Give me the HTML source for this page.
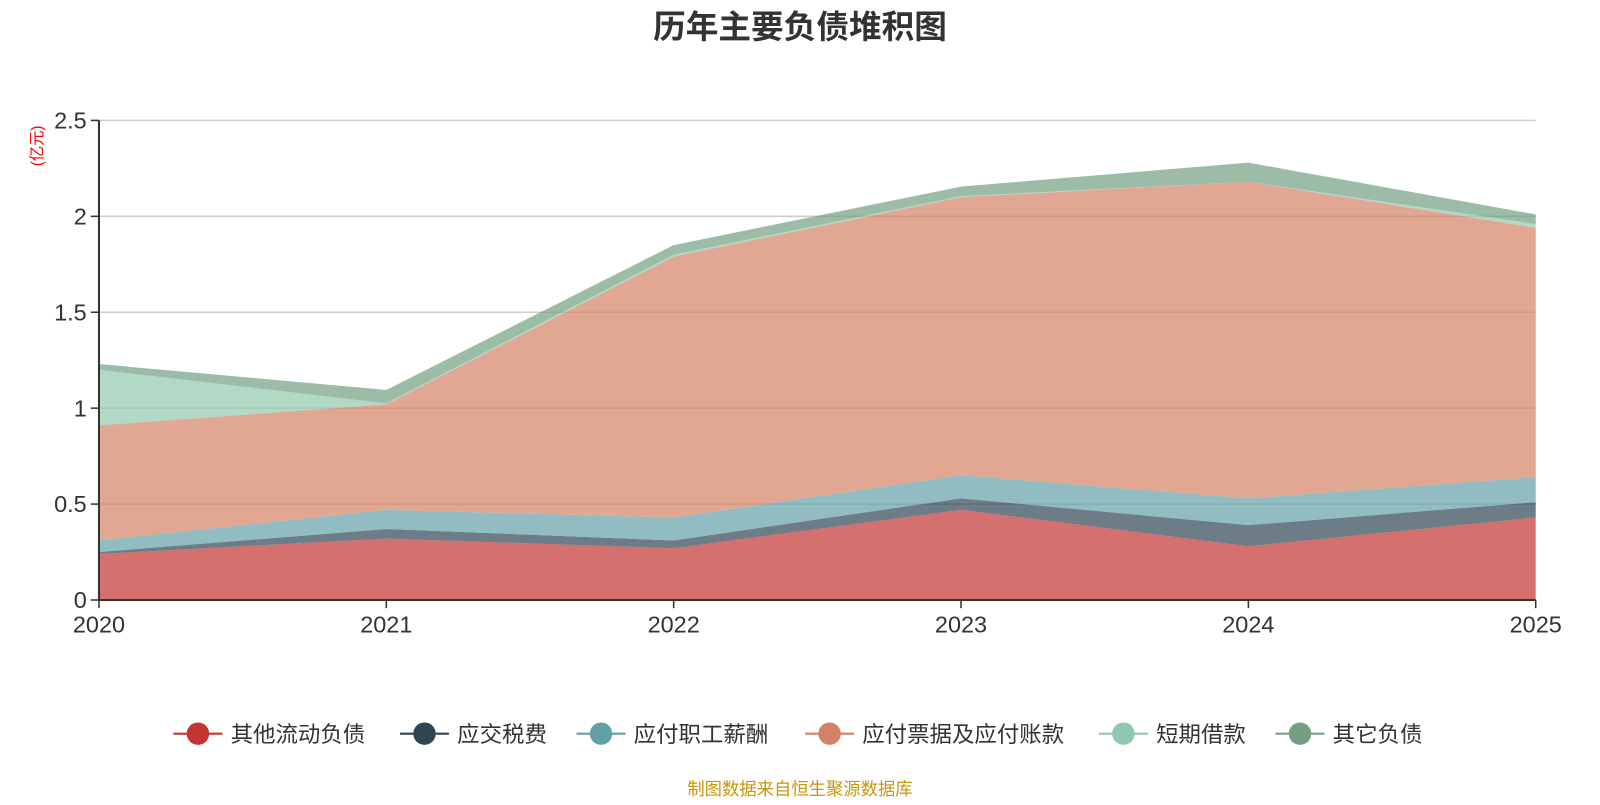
<!DOCTYPE html>
<html><head><meta charset="utf-8"><style>
body{margin:0;background:#fff;width:1600px;height:800px;overflow:hidden;font-family:"Liberation Sans","Noto Sans CJK SC",sans-serif;}
</style></head><body>
<svg id="c" width="1600" height="800" viewBox="0 0 1568 784" xmlns="http://www.w3.org/2000/svg">
<text x="784" y="37" text-anchor="middle" font-size="32" font-weight="bold" fill="#333" font-family="Liberation Sans,Noto Sans CJK SC,sans-serif">历年主要负债堆积图</text>
<text transform="translate(41,143) rotate(-90)" text-anchor="middle" font-size="15" fill="#f00" font-family="Liberation Sans,Noto Sans CJK SC,sans-serif">(亿元)</text>
<g id="grid"></g><g id="areas"></g><g id="axes"></g><g id="legend"></g>
<text x="784" y="779" text-anchor="middle" font-size="17" fill="#c8960c" font-family="Liberation Sans,Noto Sans CJK SC,sans-serif">制图数据来自恒生聚源数据库</text>
</svg>
<script>
const years = ['2020','2021','2022','2023','2024','2025'];
const seriesNames = ['其他流动负债','应交税费','应付职工薪酬','应付票据及应付账款','短期借款','其它负债'];
const otherCurrent = [0.24,0.32,0.27,0.47,0.28,0.43];
const taxes = [0.01,0.05,0.04,0.06,0.11,0.08];
const wages = [0.06,0.10,0.12,0.12,0.14,0.13];
const payables = [0.60,0.55,1.36,1.45,1.65,1.30];
const shortLoans = [0.29,0.005,0.01,0.005,0.0,0.02];
const otherLiab = [0.03,0.07,0.05,0.05,0.10,0.05];
const yTicks = [0,0.5,1,1.5,2,2.5];
const yTickLabels = ['0','0.5','1','1.5','2','2.5'];
const colors = ['#c23531','#2f4554','#61a0a8','#d48265','#91c7ae','#749f83'];
const NS='http://www.w3.org/2000/svg';
const X0=97,X1=1505,Y0=588,Y1=118,YMAX=2.5;
const xS=i=>X0+i*(X1-X0)/(years.length-1);
const yS=v=>Y0-v*(Y0-Y1)/YMAX;
function mk(tag,attrs,parent){const e=document.createElementNS(NS,tag);for(const k in attrs)e.setAttribute(k,attrs[k]);parent.appendChild(e);return e;}
const grid=document.getElementById('grid'),areas=document.getElementById('areas'),axes=document.getElementById('axes'),legend=document.getElementById('legend');
yTicks.forEach((t,i)=>{
  if(t>0){const l=mk('line',{x1:X0,x2:X1,y1:yS(t),y2:yS(t),stroke:'#ccc','stroke-width':1.5},grid);
  
  }
  const tk=mk('line',{x1:X0-8,x2:X0,y1:yS(t),y2:yS(t),stroke:'#333','stroke-width':1.5},axes);
  
  
  const tx=mk('text',{x:X0-12,y:yS(t)+8,'text-anchor':'end','font-size':23,fill:'#333'},axes);
  tx.textContent=yTickLabels[i];
  
  
});
const all=[otherCurrent,taxes,wages,payables,shortLoans,otherLiab];
let base=years.map(()=>0);
all.forEach((s,si)=>{
  const top=base.map((b,i)=>b+s[i]);
  let d='M'+years.map((_,i)=>xS(i)+','+yS(top[i])).join(' L');
  for(let i=years.length-1;i>=0;i--)d+=' L'+xS(i)+','+yS(base[i]);
  d+='Z';
  const p=mk('path',{d:d,fill:colors[si],'fill-opacity':0.7,stroke:'none'},areas);
  
  
  base=top;
});
const ax=mk('line',{x1:X0,x2:X0,y1:Y1,y2:Y0,stroke:'#333','stroke-width':2},axes);


const xa=mk('line',{x1:X0,x2:X1,y1:Y0,y2:Y0,stroke:'#333','stroke-width':2},axes);


years.forEach((y,i)=>{
  const tk=mk('line',{x1:xS(i),x2:xS(i),y1:Y0,y2:Y0+8,stroke:'#333','stroke-width':1.5},axes);
  
  
  const tx=mk('text',{x:xS(i),y:Y0+32,'text-anchor':'middle','font-size':23,fill:'#333'},axes);
  tx.textContent=y;
  
  
});
const legW=[222,173,224,288,173,175];
let lx=170;
seriesNames.forEach((n,i)=>{
  const g=mk('g',{},legend);
  
  
  mk('line',{x1:lx,x2:lx+48,y1:719,y2:719,stroke:colors[i],'stroke-width':2},g);
  mk('circle',{cx:lx+24,cy:719,r:11,fill:colors[i]},g);
  const t=mk('text',{x:lx+56,y:727,'font-size':22,fill:'#333'},g);
  t.textContent=n;
  lx+=legW[i];
});
</script>
</body></html>
